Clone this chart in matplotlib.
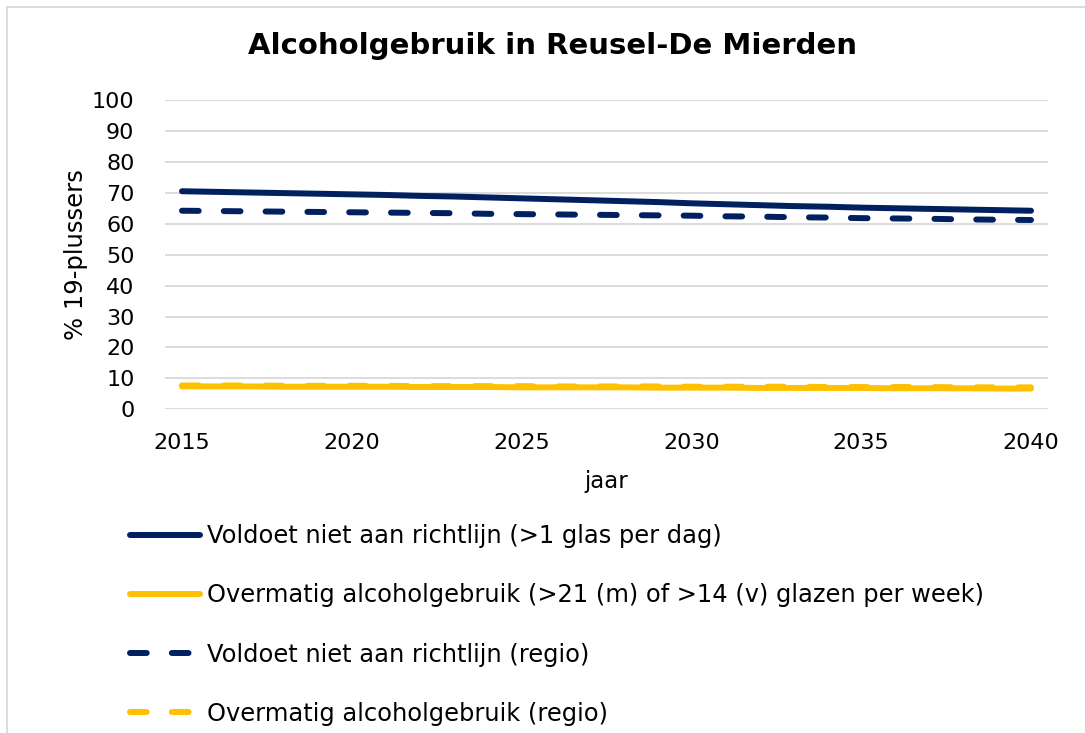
import matplotlib
matplotlib.use("Agg")
import matplotlib.pyplot as plt
from matplotlib.patches import Rectangle

plt.rcParams['font.family'] = ['DejaVu Sans']

years = list(range(2015, 2041))
gemeente_richtlijn = [70.5, 70.3, 70.1, 69.9, 69.7, 69.5, 69.3, 69.0, 68.8, 68.5,
                      68.2, 67.9, 67.6, 67.3, 67.0, 66.6, 66.3, 66.0, 65.7, 65.5,
                      65.2, 65.0, 64.8, 64.6, 64.4, 64.2]
gemeente_overmatig = [7.4, 7.4, 7.4, 7.3, 7.3, 7.3, 7.3, 7.2, 7.2, 7.2,
                      7.1, 7.1, 7.1, 7.1, 7.0, 7.0, 7.0, 6.9, 6.9, 6.9,
                      6.9, 6.8, 6.8, 6.8, 6.7, 6.7]
regio_richtlijn = [64.2, 64.1, 64.0, 63.9, 63.8, 63.7, 63.6, 63.5, 63.4, 63.2,
                   63.1, 63.0, 62.9, 62.8, 62.7, 62.6, 62.4, 62.3, 62.1, 62.0,
                   61.8, 61.7, 61.6, 61.4, 61.3, 61.2]
regio_overmatig = [7.7, 7.7, 7.7, 7.6, 7.6, 7.6, 7.6, 7.5, 7.5, 7.5,
                   7.5, 7.4, 7.4, 7.4, 7.4, 7.3, 7.3, 7.3, 7.3, 7.2,
                   7.2, 7.2, 7.2, 7.1, 7.1, 7.1]
labels = ["Voldoet niet aan richtlijn (>1 glas per dag)",
          "Overmatig alcoholgebruik (>21 (m) of >14 (v) glazen per week)",
          "Voldoet niet aan richtlijn (regio)",
          "Overmatig alcoholgebruik (regio)"]
xticks = [2015, 2020, 2025, 2030, 2035, 2040]
yticks = list(range(0, 101, 10))

NAVY = "#002060"
GOLD = "#FFC000"
GRID = "#d9d9d9"

W, H = 1085, 733
fig = plt.figure(figsize=(W / 100, H / 100), dpi=100)
fig.patch.set_facecolor("white")
fig.patches.append(Rectangle((7 / W, -0.1), 1.2, 1 - 7 / H + 0.1, transform=fig.transFigure,
                             fill=False, edgecolor=GRID, linewidth=1.3))

ax = fig.add_axes([165 / W, (H - 409.3) / H, 883 / W, 309.3 / H])
lw = 4.3
dash = (2.8, 4.2)
ax.plot(years, gemeente_richtlijn, color=NAVY, lw=lw, solid_capstyle='round', label=labels[0], zorder=3)
ax.plot(years, gemeente_overmatig, color=GOLD, lw=lw, solid_capstyle='round', label=labels[1], zorder=3)
ax.plot(years, regio_richtlijn, color=NAVY, lw=lw, dashes=dash, dash_capstyle='round', label=labels[2], zorder=4)
ax.plot(years, regio_overmatig, color=GOLD, lw=lw, dashes=dash, dash_capstyle='round', label=labels[3], zorder=4)

ax.set_xlim(2014.5, 2040.5)
ax.set_ylim(0, 100)
ax.set_xticks(xticks)
ax.set_yticks(yticks)
ax.tick_params(axis='both', length=0, labelsize=16, colors="#000000")
ax.tick_params(axis='x', pad=17)
ax.tick_params(axis='y', pad=22)
for s in ax.spines.values():
    s.set_visible(False)
ax.yaxis.grid(True, color=GRID, linewidth=1.3)
ax.set_axisbelow(True)
ax.set_xlabel("jaar", fontsize=16.5, labelpad=12)
ax.set_ylabel("% 19-plussers", fontsize=17.5, labelpad=3)

fig.text(552 / W, 1 - 46 / H, "Alcoholgebruik in Reusel-De Mierden", ha='center', va='center',
         fontsize=21, fontweight='bold')

fig.legend(loc='upper left', bbox_to_anchor=(130 / W, 1 - 524 / H), frameon=False,
           fontsize=17.4, handlelength=2.9, handletextpad=0.28, labelspacing=1.46,
           borderpad=0, borderaxespad=0)

fig.savefig("out.png", dpi=100)
